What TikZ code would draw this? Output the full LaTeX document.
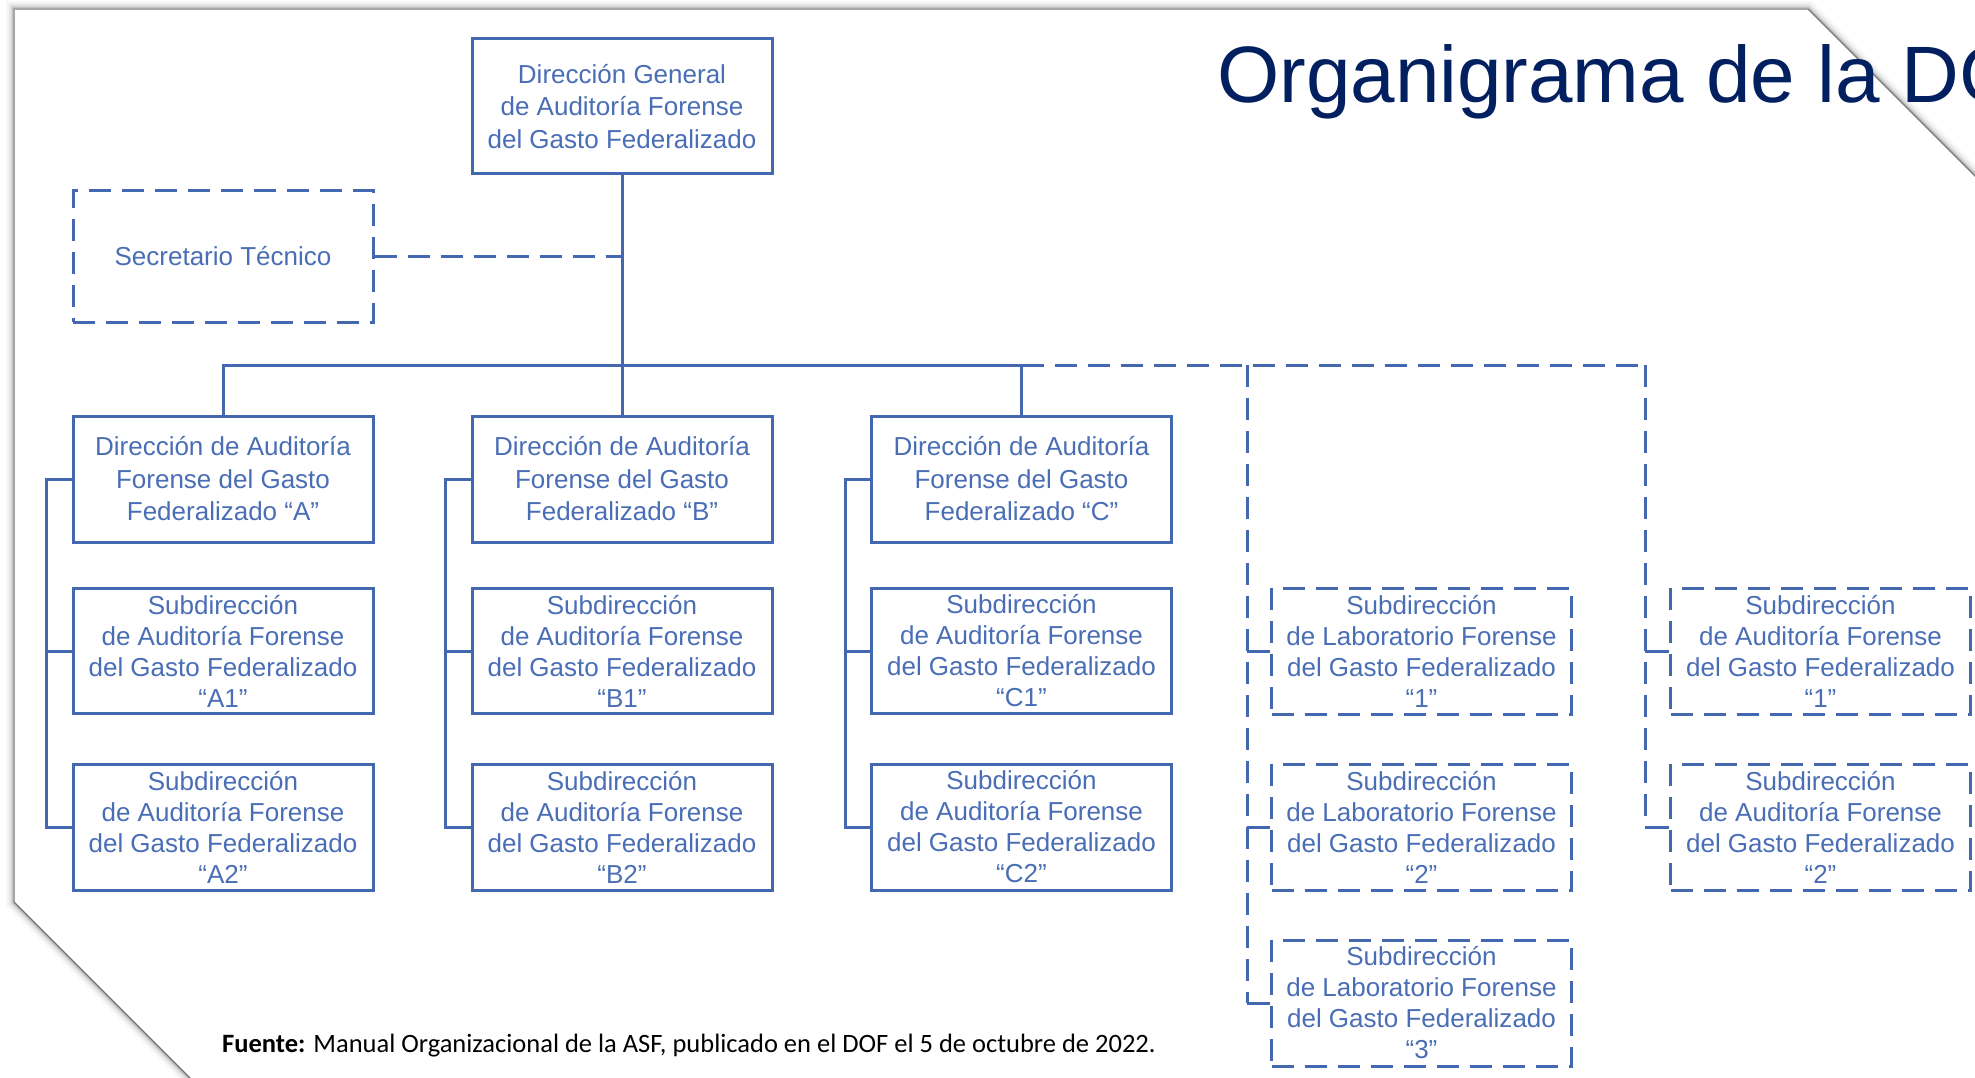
\documentclass[tikz,border=0pt]{standalone}
\usepackage{fontspec}
\setmainfont{Liberation Sans}
\newfontfamily\footfont{Carlito}
\definecolor{orgblue}{RGB}{68,104,176}
\definecolor{orgtext}{RGB}{74,110,182}
\definecolor{navy}{RGB}{2,32,96}
\tikzset{
  unitbox/.style={draw=orgblue, line width=3pt, text=orgtext, align=center,
    inner sep=0pt, minimum width=300pt},
  solidbox/.style={unitbox},
  dashbox/.style={unitbox, dash pattern=on 22pt off 11pt},
  threeline/.style={font=\fontsize{26}{32.5}\selectfont, minimum height=126pt},
  fourline/.style={font=\fontsize{26}{31}\selectfont, minimum height=125pt},
  conn/.style={draw=orgblue, line width=3pt},
  dconn/.style={conn, dash pattern=on 22pt off 11pt},
  pageshadow/.style={draw=black, line join=miter},
}
\begin{document}
\begin{tikzpicture}[x=1pt, y=-1pt]
\clip (0,0) rectangle (1975,1078);
\fill[white] (0,0) rectangle (1975,1078);

% sheet with clipped corners and its soft shadow
\foreach \w/\o in {16/0.03, 11/0.05, 7/0.07, 4/0.10} {
  \draw[pageshadow, line width=\w pt, opacity=\o]
    (214,1102) -- (14,902) -- (14,9) -- (1808,9) -- (2100,301);
}
\fill[white] (214,1102) -- (14,902) -- (14,9) -- (1808,9) -- (2100,301)
  -- (2100,1102) -- cycle;
\draw[black!35, line width=1.2pt] (14,902) -- (14,9) -- (1808,9);
\draw[black!55, line width=1.4pt] (214,1102) -- (14,902);
\draw[black!50, line width=1.4pt] (1808,9) -- (2100,301);

% title
\node[anchor=base west, inner sep=0pt, text=navy,
  font=\fontsize{80}{90}\selectfont] (title) at (1217,103) {Organigrama de la DG};

% head office and technical secretary
\node[solidbox, threeline, minimum height=135pt] (dg) at (622,106.5)
  {Dirección General\\de Auditoría Forense\\del Gasto Federalizado};
\node[dashbox, font=\fontsize{26}{32.5}\selectfont, minimum height=131pt] (st) at (223,256.5)
  {Secretario Técnico};

% directorates
\node[solidbox, threeline] (dA) at (223,479)
  {Dirección de Auditoría\\Forense del Gasto\\Federalizado “A”};
\node[solidbox, threeline] (dB) at (622,479)
  {Dirección de Auditoría\\Forense del Gasto\\Federalizado “B”};
\node[solidbox, threeline] (dC) at (1021.5,479)
  {Dirección de Auditoría\\Forense del Gasto\\Federalizado “C”};

% sub-directorates under each directorate
\foreach \c/\x in {A/223, B/622, C/1021.5} {
  \node[solidbox, fourline] (\c1) at (\x,651)
    {Subdirección\\de Auditoría Forense\\del Gasto Federalizado\\“\c1”};
  \node[solidbox, fourline, minimum height=126pt] (\c2) at (\x,827)
    {Subdirección\\de Auditoría Forense\\del Gasto Federalizado\\“\c2”};
}

% laboratory sub-directorates
\foreach \n/\y in {1/651, 2/827, 3/1003} {
  \node[dashbox, fourline, minimum height=126pt] (L\n) at (1421.5,\y)
    {Subdirección\\de Laboratorio Forense\\del Gasto Federalizado\\“\n”};
}
% audit sub-directorates without directorate
\foreach \n/\y in {1/651, 2/827} {
  \node[dashbox, fourline, minimum height=126pt] (R\n) at (1820.5,\y)
    {Subdirección\\de Auditoría Forense\\del Gasto Federalizado\\“\n”};
}

% connectors
\coordinate (bus) at (622,365);
\coordinate (labspine) at (1247,365);
\coordinate (audspine) at (1645,365);

\draw[conn] (dg.south) -- (dg.south |- bus);
\draw[conn] (dA.north) -- (dA.north |- bus) -| (dC.north);
\draw[conn] (dB.north) -- (dB.north |- bus);
\draw[dconn] (st.east) -- (st.east -| dg.south);

\draw[dconn] (dC.north |- bus) -- (audspine);
\draw[dconn] (labspine) -- (labspine |- L3.west);
\draw[dconn] (audspine) -- (audspine |- R2.west);
\foreach \n in {1,2,3} { \draw[conn] (labspine |- L\n.west) -- (L\n.west); }
\foreach \n in {1,2} { \draw[conn] (audspine |- R\n.west) -- (R\n.west); }

\foreach \c in {A,B,C} {
  \draw[conn] (d\c.west) -- ++(-25,0) |- (\c2.west);
  \draw[conn] (\c1.west) -- ++(-25,0);
}

% source note
\node[anchor=base west, inner sep=0pt, text=black,
  font=\footfont\fontsize{26.5}{30}\selectfont] (src) at (222,1052)
  {\textbf{Fuente:} Manual Organizacional de la ASF, publicado en el DOF el 5 de octubre de 2022.};
\end{tikzpicture}
\end{document}
